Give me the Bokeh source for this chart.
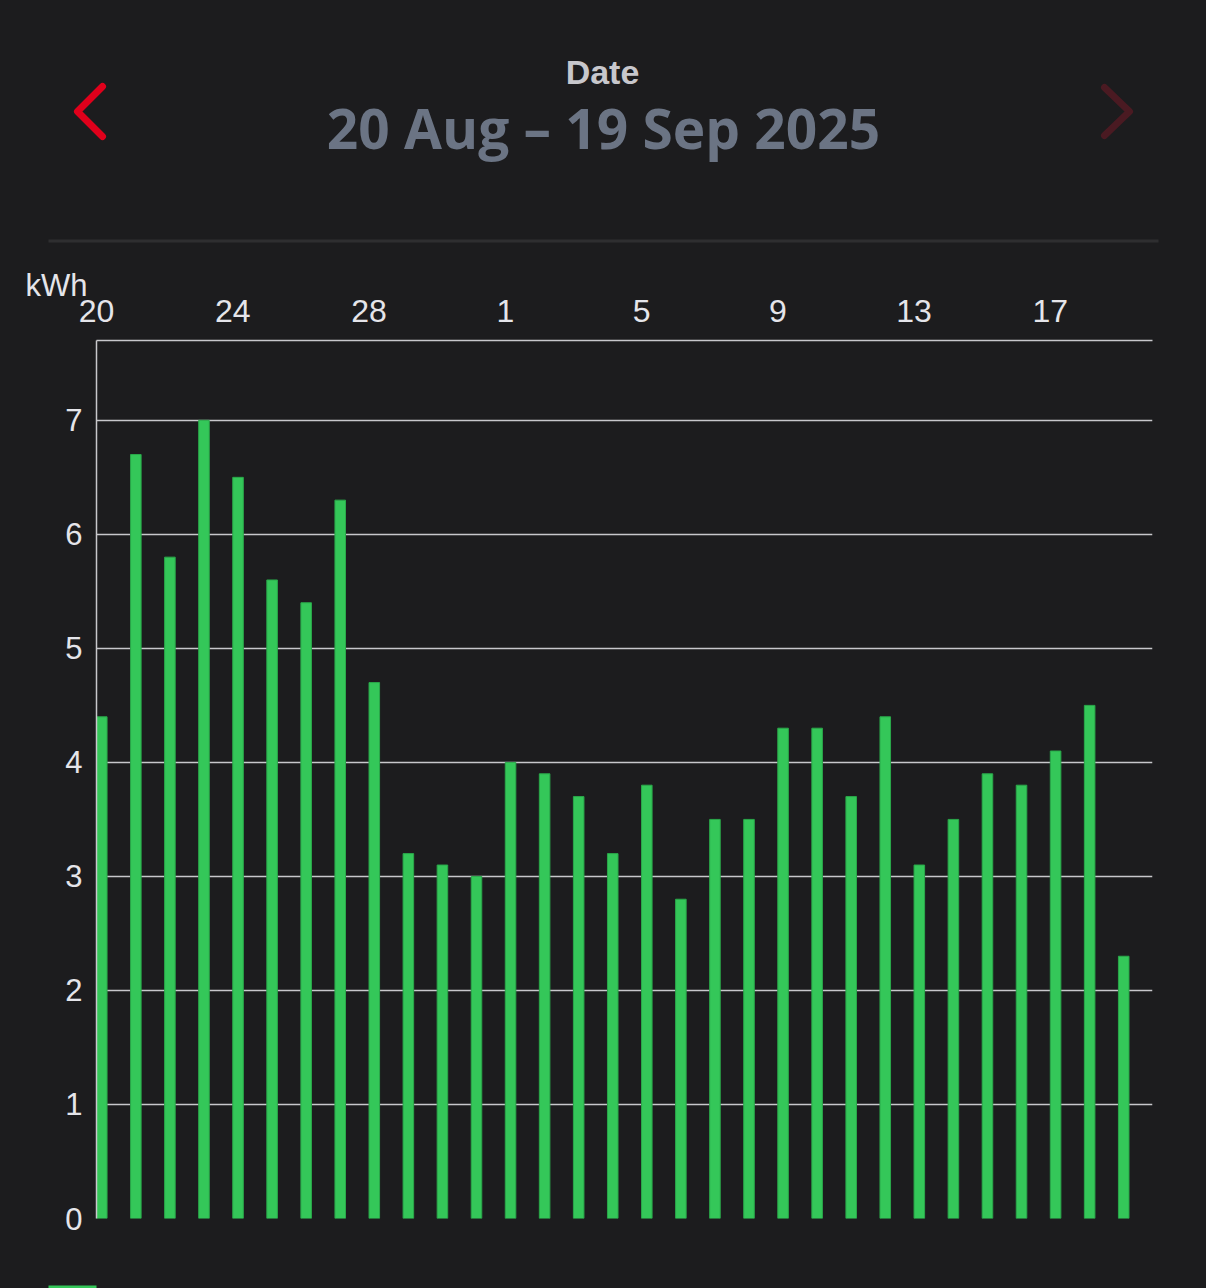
from bokeh.plotting import figure
from bokeh.models import ColumnDataSource, Range1d, FixedTicker, LinearAxis
from bokeh.core.properties import value
from bokeh.embed import file_html
from bokeh.resources import INLINE

# ---- data ----
days = ["20", "21", "22", "23", "24", "25", "26", "27", "28", "29", "30", "31",
        "1", "2", "3", "4", "5", "6", "7", "8", "9", "10", "11", "12", "13", "14",
        "15", "16", "17", "18", "19"]
kwh = [4.4, 6.7, 5.8, 7.0, 6.5, 5.6, 5.4, 6.3, 4.7, 3.2, 3.1, 3.0,
       4.0, 3.9, 3.7, 3.2, 3.8, 2.8, 3.5, 3.5, 4.3, 4.3, 3.7, 4.4, 3.1, 3.5,
       3.9, 3.8, 4.1, 4.5, 2.3]
y_ticks = [0, 1, 2, 3, 4, 5, 6, 7]
x_tick_every = 4
title_small = "Date"
title_big = "20 Aug \u2013 19 Sep 2025"
unit_label = "kWh"

BG = "#1c1c1e"
GREEN = "#34c759"
TEXT = "#e5e5ea"
GRID = "#c8c8cc"
W = 1206
HH = 315                       # header canvas height (overlaps chart by OV)
OV = 65
L, R, T, B = 96, 54, 90, 70    # chart frame borders
CH = 1288 - (HH - OV)          # chart height
FH = 20                        # footer strip height (overlaps chart bottom)
n = len(days)
YMAX = 7.7

# ---- header figure (data coords == page pixels) ----
h = figure(width=W, height=HH, x_range=Range1d(0, W), y_range=Range1d(HH, 0),
           x_axis_location=None, y_axis_location=None,
           output_backend="svg", toolbar_location=None,
           min_border_left=0, min_border_right=0, min_border_top=0, min_border_bottom=0,
           styles={"margin-bottom": f"-{OV}px"})
h.grid.visible = False
h.outline_line_color = None
h.background_fill_color = BG
h.border_fill_color = BG

h.text(x=[602], y=[71], text=[title_small], text_font=value("Liberation Sans"),
       text_font_style="bold", text_font_size="34px", text_color="#c7c7cc",
       text_align="center", text_baseline="alphabetic")
h.text(x=[603], y=[127], text=[title_big], text_font=value("Open Sans"),
       text_font_style="bold", text_font_size="55px", text_color="#6b7484",
       text_align="center", text_baseline="alphabetic")
h.text(x=[25], y=[285], text=[unit_label], text_font=value("Liberation Sans"),
       text_font_size="31px", text_color=TEXT, text_align="left",
       text_baseline="alphabetic")
h.line(x=[102, 77, 102], y=[86, 111, 136], line_color="#e0001b", line_width=7,
       line_cap="round", line_join="round")
h.line(x=[1104, 1129, 1104], y=[87, 111, 135], line_color="#4a1a22", line_width=7,
       line_cap="round", line_join="round")
h.line(x=[48, 1158], y=[240.5, 240.5], line_color="#2e2e30", line_width=3)

# ---- chart figure ----
src = ColumnDataSource(dict(left=list(range(n)), right=[i + 0.31 for i in range(n)],
                            top=kwh, bottom=[0] * n))

p = figure(width=W, height=CH, x_range=Range1d(0, n), y_range=Range1d(0, YMAX),
           x_axis_location=None, y_axis_location=None,
           output_backend="svg", toolbar_location=None,
           min_border_left=L, min_border_right=R, min_border_top=T, min_border_bottom=B,
           styles={"margin-bottom": f"-{FH}px"})
p.background_fill_color = BG
p.border_fill_color = BG
p.border_fill_alpha = 0
p.outline_line_color = None

p.quad(left="left", right="right", top="top", bottom="bottom", source=src,
       fill_color=GREEN, line_color="#2aa84a", line_width=1)

yaxis = LinearAxis(ticker=FixedTicker(ticks=y_ticks))
yaxis.axis_line_color = GRID
yaxis.axis_line_width = 1.5
yaxis.major_tick_line_color = None
yaxis.minor_tick_line_color = None
yaxis.major_tick_out = 0
yaxis.major_tick_in = 0
yaxis.major_label_text_font = "Liberation Sans"
yaxis.major_label_text_font_size = "31px"
yaxis.major_label_text_color = TEXT
yaxis.major_label_standoff = 14
p.add_layout(yaxis, "left")

xt = list(range(0, n, x_tick_every))
xaxis = LinearAxis(ticker=FixedTicker(ticks=xt),
                   major_label_overrides={i: days[i] for i in xt})
xaxis.axis_line_color = GRID
xaxis.axis_line_width = 1.5
xaxis.major_tick_line_color = None
xaxis.minor_tick_line_color = None
xaxis.major_tick_out = 0
xaxis.major_tick_in = 0
xaxis.major_label_text_font = "Liberation Sans"
xaxis.major_label_text_font_size = "32px"
xaxis.major_label_text_color = TEXT
xaxis.major_label_standoff = 19
p.add_layout(xaxis, "above")

p.xgrid.visible = False
p.ygrid.ticker = FixedTicker(ticks=y_ticks)
p.ygrid.grid_line_color = GRID
p.ygrid.grid_line_width = 1.5

# footer strip with the (cut off) legend swatch, overlapping the chart's bottom border
f = figure(width=W, height=FH, x_range=Range1d(0, W), y_range=Range1d(FH, 0),
           x_axis_location=None, y_axis_location=None,
           output_backend="svg", toolbar_location=None,
           min_border_left=0, min_border_right=0, min_border_top=0, min_border_bottom=0)
f.grid.visible = False
f.outline_line_color = None
f.background_fill_alpha = 0
f.border_fill_alpha = 0
f.quad(left=[48], right=[96], top=[FH - 3], bottom=[FH], fill_color=GREEN, line_color=None)

html = file_html([h, p, f], INLINE)
html = html.replace("</head>", "<style>html,body{background:#1c1c1e;}</style></head>", 1)
open("out.html", "w").write(html)
